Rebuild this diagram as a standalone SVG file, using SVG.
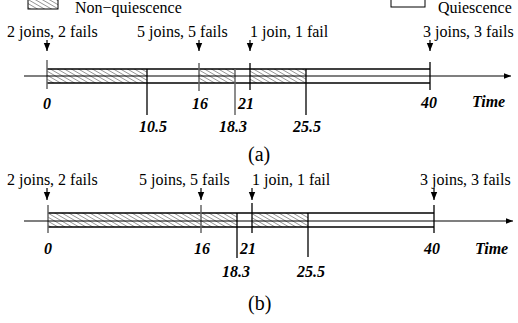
<svg xmlns="http://www.w3.org/2000/svg" width="518" height="323" viewBox="0 0 518 323">
<defs>
<pattern id="hatch" patternUnits="userSpaceOnUse" width="3.5" height="4" patternTransform="rotate(-60)">
<rect width="3.5" height="4" fill="#fff"/>
<line x1="0" y1="0" x2="0" y2="4" stroke="#444" stroke-width="1"/>
</pattern>
<marker id="ah" viewBox="0 0 10 10" refX="10" refY="5" markerWidth="8" markerHeight="8" markerUnits="userSpaceOnUse" orient="auto">
<path d="M0,1 L10,5 L0,9 Z" fill="#000"/>
</marker>
<marker id="axh" viewBox="0 0 10 10" refX="10" refY="5" markerWidth="9" markerHeight="7" markerUnits="userSpaceOnUse" orient="auto">
<path d="M0,1 L10,5 L0,9 Z" fill="#000"/>
</marker>
</defs>
<style>
.lbl{font-family:"Liberation Serif","Times New Roman",serif;font-size:16px;fill:#000}
.num{font-family:"Liberation Serif","Times New Roman",serif;font-size:16px;font-weight:bold;font-style:italic;fill:#000}
.cap{font-family:"Liberation Serif","Times New Roman",serif;font-size:20px;fill:#000}
.bar{stroke:#000;stroke-width:1.3}
.hat{fill:url(#hatch);stroke:none}
.tk{stroke:#666;stroke-width:1.5}
.tkb{stroke:#000;stroke-width:1.3}
.ev{stroke:#000;stroke-width:1.2;marker-end:url(#ah)}
.ax{stroke:#000;stroke-width:1.2;marker-end:url(#axh)}
</style>
<g id="legend">
<rect x="28" y="-2" width="30" height="11" fill="url(#hatch)" stroke="#000" stroke-width="1"/>
<text class="lbl" x="75" y="13">Non−quiescence</text>
<rect x="391" y="-2" width="34" height="9" fill="#fff" stroke="#000" stroke-width="1"/>
<text class="lbl" x="438" y="13">Quiescence</text>
</g>
<g id="timeline-a">
<rect class="hat" x="47" y="69" width="100" height="14"/>
<rect class="hat" x="199" y="69" width="36" height="14"/>
<rect class="hat" x="250" y="69" width="56" height="14"/>
<line class="bar" x1="47" y1="69" x2="430" y2="69"/>
<line class="bar" x1="47" y1="83" x2="430" y2="83"/>
<line class="tk" x1="47" y1="60" x2="47" y2="89"/>
<line class="tkb" x1="147" y1="69" x2="147" y2="115"/>
<line class="tk" x1="199" y1="63" x2="199" y2="91"/>
<line class="tk" x1="235" y1="69" x2="235" y2="115"/>
<line class="tkb" x1="250" y1="63" x2="250" y2="90"/>
<line class="tkb" x1="306" y1="69" x2="306" y2="115"/>
<line class="tkb" x1="430" y1="62" x2="430" y2="90"/>
<text class="lbl" x="7" y="37">2 joins, 2 fails</text>
<text class="lbl" x="137" y="37">5 joins, 5 fails</text>
<text class="lbl" x="250" y="37">1 join, 1 fail</text>
<text class="lbl" x="423" y="37">3 joins, 3 fails</text>
<text class="num" x="43" y="109">0</text>
<text class="num" x="139" y="132">10.5</text>
<text class="num" x="192" y="109">16</text>
<text class="num" x="219" y="132">18.3</text>
<text class="num" x="238" y="109">21</text>
<text class="num" x="293" y="132">25.5</text>
<text class="num" x="421" y="108">40</text>
<text class="num" x="472" y="107">Time</text>
<text class="cap" x="248" y="161">(a)</text>
</g>
<g id="timeline-b">
<rect class="hat" x="48" y="213" width="189" height="14"/>
<rect class="hat" x="252" y="213" width="56" height="14"/>
<line class="bar" x1="48" y1="213" x2="434" y2="213"/>
<line class="bar" x1="48" y1="227" x2="434" y2="227"/>
<line class="tkb" x1="237" y1="213" x2="237" y2="227"/>
<line class="tk" x1="48" y1="205" x2="48" y2="233"/>
<line class="tk" x1="201" y1="205" x2="201" y2="233"/>
<line class="tkb" x1="237" y1="227" x2="237" y2="258"/>
<line class="tkb" x1="252" y1="203" x2="252" y2="233"/>
<line class="tkb" x1="308" y1="213" x2="308" y2="257"/>
<line class="tkb" x1="434" y1="205" x2="434" y2="233"/>
<text class="lbl" x="7" y="185">2 joins, 2 fails</text>
<text class="lbl" x="139" y="185">5 joins, 5 fails</text>
<text class="lbl" x="252" y="185">1 join, 1 fail</text>
<text class="lbl" x="420" y="185">3 joins, 3 fails</text>
<text class="num" x="44" y="254">0</text>
<text class="num" x="194" y="254">16</text>
<text class="num" x="240" y="254">21</text>
<text class="num" x="424" y="254">40</text>
<text class="num" x="475" y="254">Time</text>
<text class="num" x="222" y="277">18.3</text>
<text class="num" x="297" y="277">25.5</text>
<text class="cap" x="248" y="310">(b)</text>
</g>
<g id="connectors">
<line class="ax" x1="24" y1="76" x2="511" y2="76"/>
<line class="ax" x1="24" y1="221" x2="513" y2="221"/>
<line class="ev" x1="47" y1="40" x2="47" y2="51"/>
<line class="ev" x1="199" y1="40" x2="199" y2="51"/>
<line class="ev" x1="250" y1="40" x2="250" y2="51"/>
<line class="ev" x1="430" y1="40" x2="430" y2="51"/>
<line class="ev" x1="47" y1="188" x2="47" y2="200"/>
<line class="ev" x1="201" y1="188" x2="201" y2="200"/>
<line class="ev" x1="252" y1="188" x2="252" y2="200"/>
<line class="ev" x1="434" y1="188" x2="434" y2="200"/>
</g>
</svg>
